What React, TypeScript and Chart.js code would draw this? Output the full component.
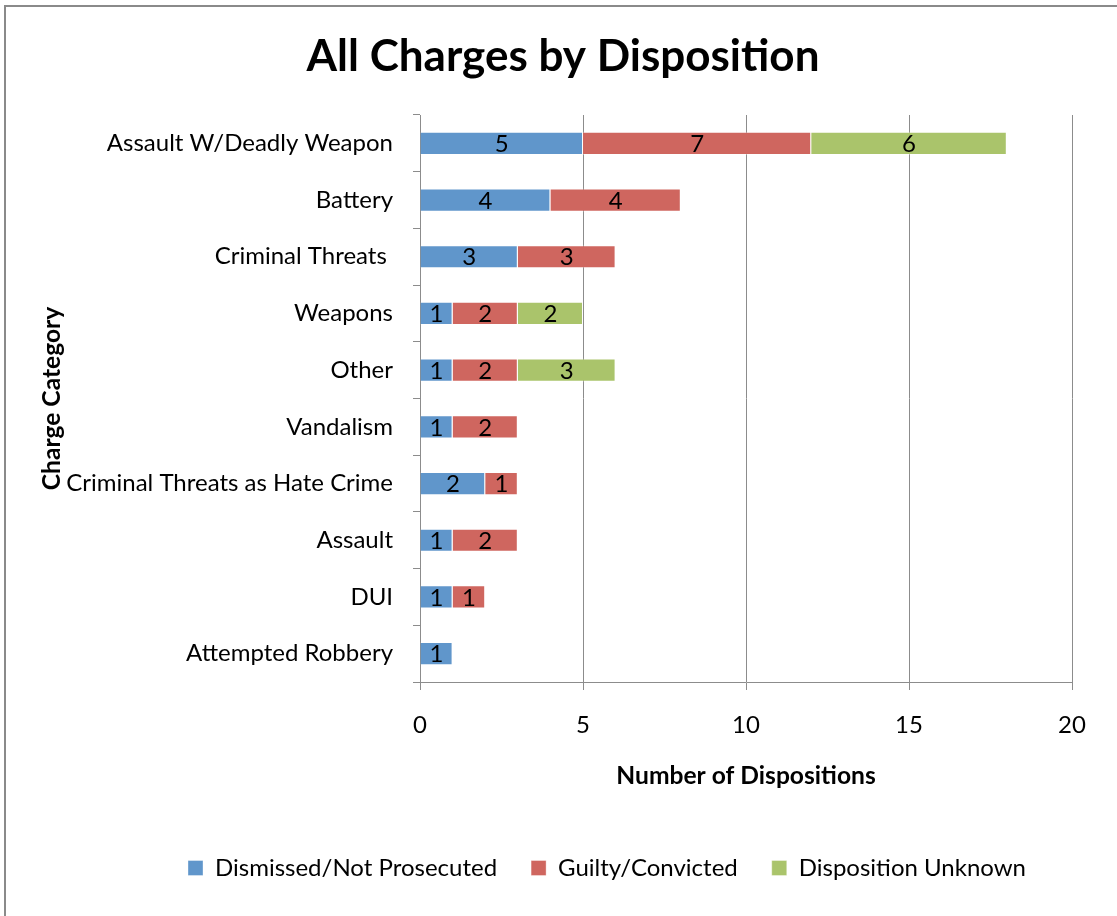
import { useEffect, useRef } from "react";
import { Chart, registerables } from "chart.js";

Chart.register(...registerables);

const FONT = "Lato, 'Open Sans', sans-serif";

const categories = [
  "Assault W/Deadly Weapon",
  "Battery",
  "Criminal Threats ",
  "Weapons",
  "Other",
  "Vandalism",
  "Criminal Threats as Hate Crime",
  "Assault",
  "DUI",
  "Attempted Robbery",
];
const dismissed = [5, 4, 3, 1, 1, 1, 2, 1, 1, 1];
const guilty = [7, 4, 3, 2, 2, 2, 1, 2, 1, 0];
const unknown = [6, 0, 0, 2, 3, 0, 0, 0, 0, 0];
const seriesNames = ["Dismissed/Not Prosecuted", "Guilty/Convicted", "Disposition Unknown"];
const seriesColors = ["#6096cb", "#cf665f", "#aac46b"];
const xTickValues = [0, 5, 10, 15, 20];

const segLabels = {
  id: "segLabels",
  afterDatasetsDraw(chart: any) {
    const ctx = chart.ctx;
    ctx.save();
    ctx.font = `24px ${FONT}`;
    ctx.fillStyle = "#000";
    ctx.textAlign = "center";
    ctx.textBaseline = "middle";
    chart.data.datasets.forEach((ds: any, di: number) => {
      const meta = chart.getDatasetMeta(di);
      meta.data.forEach((el: any, i: number) => {
        const v = ds.data[i];
        if (!v) return;
        const p = el.getProps(["x", "y", "base"], true);
        ctx.fillText(String(v), (p.x + p.base) / 2, p.y + 1);
      });
    });
    ctx.restore();
  },
};

// place title and legend horizontally like the original (Excel) layout
const placeBlocks = {
  id: "placeBlocks",
  afterLayout(chart: any) {
    const t = chart.titleBlock;
    if (t) {
      t.left = 9;
      t.right = 1117;
      t.width = t.right - t.left;
    }
    const lg = chart.legend;
    if (lg && lg.lineWidths && lg.lineWidths.length) {
      const pad = lg.options.labels.padding;
      const w = lg.right - lg.left;
      const sum = 2 * 188 - pad + lg.lineWidths[0];
      lg.left = (sum - w) / 2;
      lg.right = lg.left + w;
    }
  },
};

export default function App() {
  const ref = useRef<HTMLCanvasElement | null>(null);
  useEffect(() => {
    if (!ref.current) return;
    Chart.defaults.font.family = FONT;
    const values = [dismissed, guilty, unknown];
    const chart = new Chart(ref.current, {
      type: "bar",
      data: {
        labels: categories,
        datasets: seriesNames.map((name, i) => ({
          label: name,
          data: values[i],
          backgroundColor: seriesColors[i],
          borderColor: "rgba(255,255,255,0.35)",
          borderWidth: 1,
          barPercentage: 0.41,
          categoryPercentage: 1,
        })),
      },
      options: {
        indexAxis: "y",
        animation: false,
        responsive: false,
        devicePixelRatio: 1,
        layout: { padding: { left: 0, right: 45, top: 0, bottom: 26 } },
        plugins: {
          title: {
            display: true,
            text: "All Charges by Disposition",
            color: "#000",
            font: { size: 44, weight: "bold" },
            padding: { top: 30.6, bottom: 31.6 },
          },
          legend: {
            position: "bottom",
            labels: {
              color: "#000",
              font: { size: 24 },
              boxWidth: 15,
              boxHeight: 15,
              padding: 34,
            },
          },
          tooltip: { enabled: false },
        },
        scales: {
          x: {
            stacked: true,
            min: 0,
            max: 20,
            afterBuildTicks: (s: any) => {
              s.ticks = xTickValues.map((v) => ({ value: v }));
            },
            ticks: { color: "#000", font: { size: 24 }, padding: 20.6 },
            grid: { color: "#8c8c8c", tickLength: 8 },
            border: { color: "#8c8c8c" },
            title: {
              display: true,
              text: "Number of Dispositions",
              color: "#000",
              font: { size: 24.6, weight: "bold" },
              padding: { top: 0, bottom: 31.2 },
            },
            afterFit: (s: any) => {
              s.height = 140;
            },
          },
          y: {
            stacked: true,
            ticks: { color: "#000", font: { size: 24 }, padding: 20 },
            grid: { drawOnChartArea: false, color: "#8c8c8c", tickLength: 7 },
            border: { color: "#8c8c8c" },
            title: {
              display: true,
              text: "Charge Category",
              color: "#000",
              font: { size: 24.6, weight: "bold" },
              padding: { top: 37.2, bottom: 0 },
            },
            afterFit: (s: any) => {
              s.width = 420;
            },
          },
        },
      },
      plugins: [segLabels, placeBlocks],
    });
    return () => chart.destroy();
  }, []);

  return (
    <div style={{ position: "absolute", left: 0, top: 0, width: 1117, height: 916, overflow: "hidden", background: "#fff" }}>
      <div
        style={{
          position: "absolute",
          left: 4,
          top: 5,
          width: 1113,
          height: 911,
          borderTop: "2px solid #8a8a8a",
          borderLeft: "2px solid #8a8a8a",
          boxSizing: "border-box",
        }}
      />
      <canvas ref={ref} width={1117} height={916} style={{ position: "absolute", left: 0, top: 0, display: "block" }} />
    </div>
  );
}
